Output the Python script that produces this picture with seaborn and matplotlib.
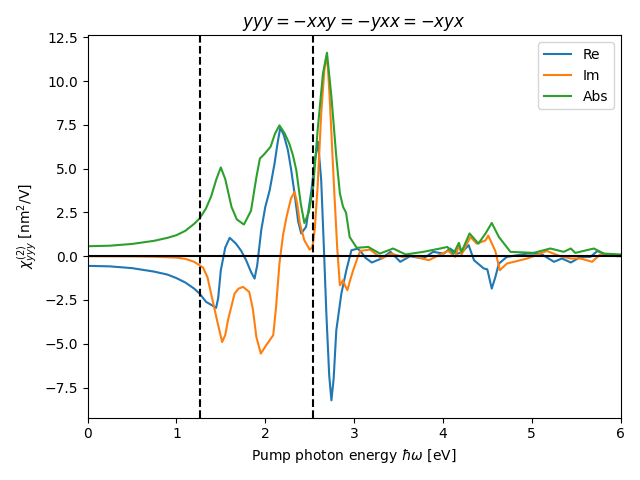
import pandas as pd
import numpy as np
from matplotlib import pyplot as plt
import seaborn as sns

# photon energies (eV) and chi^(2) values
re_x = [0.0, 0.25, 0.5, 0.75, 0.9, 1.0, 1.1, 1.2, 1.26, 1.335, 1.40, 1.447, 1.47, 1.50, 1.55,
        1.60, 1.67, 1.73, 1.785, 1.84, 1.88, 1.91, 1.955, 2.00, 2.05, 2.105, 2.14, 2.17, 2.21,
        2.255, 2.29, 2.33, 2.37, 2.405, 2.46, 2.52, 2.56, 2.594, 2.63, 2.66, 2.688, 2.72, 2.745,
        2.77, 2.80, 2.857, 2.913, 2.97, 3.04, 3.07, 3.13, 3.20, 3.31, 3.41, 3.52, 3.63, 3.78,
        3.89, 4.01, 4.08, 4.16, 4.21, 4.29, 4.35, 4.46, 4.50, 4.55, 4.59, 4.63, 4.72, 4.95,
        5.10, 5.25, 5.34, 5.44, 5.55, 5.66, 5.74, 5.85, 6.0]
re_y = [-0.55, -0.58, -0.68, -0.88, -1.05, -1.25, -1.5, -1.85, -2.13, -2.61, -2.8, -2.95, -2.4,
        -0.8, 0.5, 1.05, 0.72, 0.3, -0.23, -0.9, -1.28, -0.5, 1.49, 2.8, 3.77, 5.3, 6.5, 7.35,
        6.9, 6.06, 5.0, 3.58, 2.0, 1.3, 1.68, 3.77, 5.5, 6.53, 4.34, 0.5, -3.27, -6.8, -8.23,
        -7.0, -4.23, -2.13, -0.8, 0.34, 0.43, 0.3, -0.1, -0.36, -0.13, 0.25, -0.32, 0.0, -0.13,
        0.25, 0.15, 0.44, 0.15, 0.2, 0.63, -0.23, -0.7, -0.75, -1.85, -1.2, -0.42, -0.04, 0.15,
        0.15, -0.32, -0.13, -0.36, -0.04, -0.04, 0.3, 0.05, 0.0]

im_x = [0.0, 0.5, 0.75, 1.0, 1.1, 1.2, 1.30, 1.35, 1.39, 1.466, 1.515, 1.55, 1.58, 1.655, 1.70,
        1.75, 1.82, 1.86, 1.90, 1.95, 2.01, 2.05, 2.09, 2.12, 2.16, 2.20, 2.24, 2.29, 2.33, 2.36,
        2.39, 2.44, 2.50, 2.53, 2.557, 2.59, 2.63, 2.665, 2.688, 2.705, 2.725, 2.75, 2.78, 2.81,
        2.84, 2.876, 2.90, 2.925, 2.96, 2.99, 3.045, 3.07, 3.18, 3.31, 3.42, 3.54, 3.65, 3.84,
        3.97, 4.06, 4.14, 4.18, 4.21, 4.31, 4.38, 4.48, 4.51, 4.59, 4.64, 4.72, 4.95, 5.17,
        5.32, 5.44, 5.55, 5.68, 5.77, 5.96]
im_y = [0.0, -0.01, -0.03, -0.08, -0.15, -0.32, -0.65, -1.2, -2.13, -3.85, -4.9, -4.5, -3.66,
        -2.13, -1.85, -1.75, -2.04, -3.0, -4.61, -5.56, -5.09, -4.8, -4.51, -3.0, -0.42, 1.2,
        2.25, 3.3, 3.67, 3.0, 1.87, 0.91, 0.38, 0.5, 1.49, 4.0, 8.15, 10.6, 11.39, 10.8, 9.1,
        6.5, 3.39, 0.5, -1.66, -1.37, -1.7, -1.94, -1.3, -0.8, 0.0, 0.3, 0.38, -0.13, 0.15,
        -0.04, 0.03, -0.23, 0.1, 0.3, -0.04, 0.63, 0.1, 1.1, 0.72, 0.9, 1.18, 0.3, -0.8, -0.42,
        -0.13, 0.3, 0.0, -0.13, -0.13, -0.32, 0.1, 0.0]

abs_x = [0.0, 0.25, 0.5, 0.75, 0.9, 1.0, 1.1, 1.2, 1.26, 1.33, 1.39, 1.45, 1.50, 1.55, 1.62,
         1.68, 1.76, 1.84, 1.90, 1.94, 1.99, 2.06, 2.11, 2.16, 2.22, 2.27, 2.31, 2.35, 2.40,
         2.44, 2.49, 2.54, 2.59, 2.65, 2.695, 2.745, 2.80, 2.84, 2.876, 2.91, 2.95, 3.03, 3.16,
         3.29, 3.44, 3.58, 3.78, 3.97, 4.05, 4.12, 4.18, 4.21, 4.30, 4.40, 4.48, 4.55, 4.63,
         4.76, 5.02, 5.21, 5.36, 5.44, 5.49, 5.70, 5.81, 6.0]
abs_y = [0.57, 0.6, 0.7, 0.88, 1.05, 1.2, 1.45, 1.85, 2.15, 2.7, 3.4, 4.4, 5.07, 4.4, 2.82,
         2.1, 1.81, 2.6, 4.5, 5.58, 5.83, 6.25, 7.0, 7.47, 7.0, 6.44, 5.8, 4.91, 3.0, 1.9, 2.5,
         3.96, 7.2, 10.44, 11.62, 9.1, 5.67, 3.6, 2.82, 2.48, 1.1, 0.48, 0.53, 0.15, 0.44, 0.1,
         0.25, 0.44, 0.53, 0.15, 0.76, 0.25, 1.3, 0.72, 1.3, 1.9, 1.1, 0.25, 0.19, 0.44, 0.25,
         0.44, 0.19, 0.44, 0.15, 0.1]

gap_lines = [1.265, 2.535]

fig, ax = plt.subplots(1, 1, figsize=(6.4, 4.8), dpi=100)

sns.lineplot(x=re_x, y=re_y, ax=ax, label='Re', color='C0', estimator=None)
sns.lineplot(x=im_x, y=im_y, ax=ax, label='Im', color='C1', estimator=None)
sns.lineplot(x=abs_x, y=abs_y, ax=ax, label='Abs', color='C2', estimator=None)

ax.axhline(0, color='k')
for g in gap_lines:
    ax.axvline(g, color='k', linestyle='--')

ax.set_xlim(0, 6)
ax.set_title(r'$yyy=-xxy=-yxx=-xyx$')
ax.set_xlabel(r'Pump photon energy $\hbar\omega$ [eV]')
ax.set_ylabel(r'$\chi^{(2)}_{yyy}$ [nm$^2$/V]')
ax.legend(loc='upper right')

fig.tight_layout()
fig.savefig('out.png')
